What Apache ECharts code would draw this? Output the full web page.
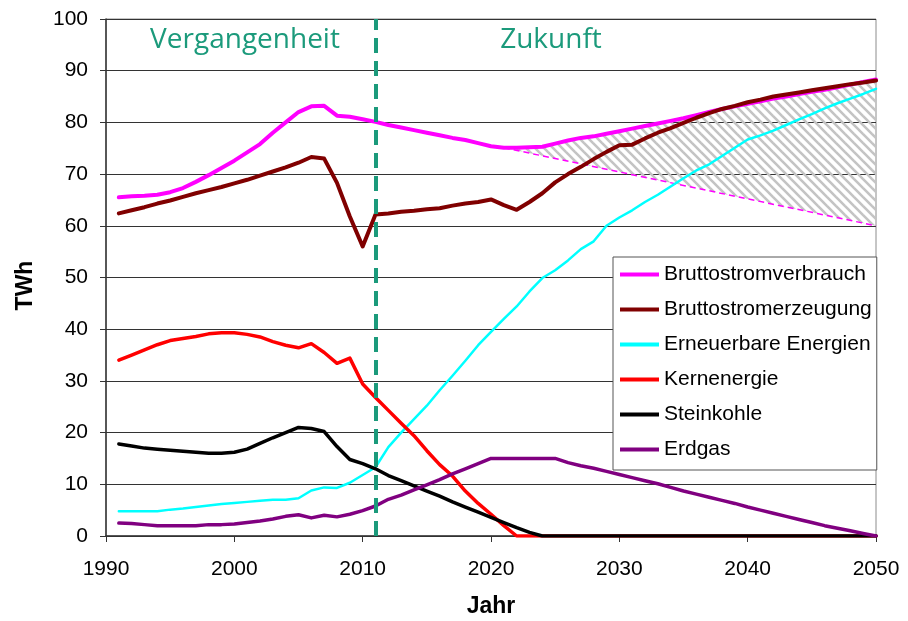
<!DOCTYPE html>
<html><head><meta charset="utf-8">
<script src="https://cdn.jsdelivr.net/npm/echarts@6/dist/echarts.min.js"></script>
<style>html,body{margin:0;padding:0;background:#fff}#c{width:908px;height:621px}</style>
</head><body><div id="c"></div>
<script>
const years = [1991,1992,1993,1994,1995,1996,1997,1998,1999,2000,
  2001,2002,2003,2004,2005,2006,2007,2008,2009,2010,
  2011,2012,2013,2014,2015,2016,2017,2018,2019,2020,
  2021,2022,2023,2024,2025,2026,2027,2028,2029,2030,
  2031,2032,2033,2034,2035,2036,2037,2038,2039,2040,
  2041,2042,2043,2044,2045,2046,2047,2048,2049,2050];
const verbrauch = [65.5,65.7,65.8,66.0,66.5,67.3,68.5,69.8,71.2,72.6,
  74.2,75.8,78.0,80.0,82.0,83.1,83.2,81.3,81.1,80.6,
  80.1,79.5,79.0,78.5,78.0,77.5,77.0,76.6,76.0,75.4,
  75.1,75.1,75.2,75.3,75.9,76.5,77.0,77.3,77.8,78.3,
  78.8,79.3,79.8,80.3,80.8,81.4,82.0,82.6,83.1,83.6,
  84.1,84.6,85.0,85.5,85.9,86.3,86.8,87.3,87.8,88.3];
const erzeugung = [62.4,63.0,63.6,64.3,64.9,65.6,66.3,66.9,67.5,68.2,
  68.9,69.7,70.5,71.3,72.2,73.3,73.0,68.3,61.8,56.0,
  62.2,62.4,62.7,62.9,63.2,63.4,63.9,64.3,64.6,65.1,
  64.0,63.1,64.6,66.3,68.4,70.0,71.4,72.9,74.3,75.6,
  75.7,76.9,78.0,78.9,79.9,80.9,81.8,82.6,83.2,83.9,
  84.4,85.0,85.4,85.8,86.2,86.6,87.0,87.4,87.7,88.1];
const erneuerbar = [4.8,4.8,4.8,4.8,5.1,5.3,5.6,5.9,6.2,6.4,
  6.6,6.8,7.0,7.0,7.3,8.8,9.4,9.3,10.3,11.8,
  13.3,17.2,20.0,22.6,25.2,28.2,31.0,33.9,36.9,39.5,
  42.0,44.4,47.3,49.9,51.4,53.3,55.5,57.0,60.0,61.6,
  63.0,64.6,66.0,67.6,69.2,70.7,71.9,73.5,75.1,76.7,
  77.5,78.4,79.5,80.6,81.6,82.7,83.7,84.6,85.5,86.5];
const kern = [34.0,35.0,36.0,37.0,37.8,38.2,38.6,39.1,39.3,39.3,
  39.0,38.5,37.6,36.9,36.4,37.2,35.5,33.4,34.4,29.4,
  26.8,24.3,21.8,19.4,16.5,13.8,11.6,8.7,6.3,4.2,
  2.0,0,0,0,0,0,0,0,0,0,
  0,0,0,0,0,0,0,0,0,0,
  0,0,0,0,0,0,0,0,0,0];
const kohle = [17.8,17.4,17.0,16.8,16.6,16.4,16.2,16.0,16.0,16.2,
  16.8,17.9,19.0,20.0,21.0,20.8,20.2,17.3,14.8,14.0,
  13.0,11.7,10.7,9.7,8.7,7.7,6.6,5.6,4.6,3.6,
  2.6,1.6,0.7,0,0,0,0,0,0,0,
  0,0,0,0,0,0,0,0,0,0,
  0,0,0,0,0,0,0,0,0,0];
const erdgas = [2.5,2.4,2.2,2.0,2.0,2.0,2.0,2.2,2.2,2.3,
  2.6,2.9,3.3,3.8,4.1,3.5,4.0,3.7,4.2,4.9,
  5.8,7.1,7.9,8.9,9.9,10.9,12.0,13.0,14.0,15.0,
  15.0,15.0,15.0,15.0,15.0,14.2,13.6,13.1,12.5,11.9,
  11.3,10.7,10.1,9.4,8.7,8.1,7.5,6.9,6.3,5.6,
  5.0,4.4,3.8,3.2,2.6,2.0,1.5,1.0,0.5,0];
const reductionYears = [2021, 2050];
const reductionValues = [75.1, 60.0];
const dividerYear = 2011;
const seriesNames = ['Bruttostromverbrauch','Bruttostromerzeugung','Erneuerbare Energien','Kernenergie','Steinkohle','Erdgas'];
const xTicks = [1990, 2050, 10];
const yTicks = [0, 100, 10];

const teal = '#1b9a7b';
const hatch = document.createElement('canvas');
hatch.width = 9; hatch.height = 9;
(function(){
  const g = hatch.getContext('2d');
  g.strokeStyle = '#c4c4c4'; g.lineWidth = 2.6;
  for (let k = -1; k <= 1; k++) { g.beginPath(); g.moveTo(-2, -2 + k*9); g.lineTo(11, 11 + k*9); g.stroke(); }
})();

const pair = a => years.map((y, i) => [y, a[i]]);
const font = '"Liberation Sans", Arial, sans-serif';
const chart = echarts.init(document.getElementById('c'));
const lineSeries = (name, arr, color, width) => ({
  name, type: 'line', data: pair(arr), showSymbol: false, symbol: 'none',
  lineStyle: {color, width, join: 'round', cap: 'round'}, itemStyle: {color}, z: 3
});
chart.setOption({
  animation: false,
  grid: {left: 106, right: 32, top: 19, bottom: 85, show: true, borderColor: '#8c8c8c', borderWidth: 1,
    containLabel: false, outerBoundsMode: 'none'},
  xAxis: {type: 'value', min: xTicks[0], max: xTicks[1], interval: xTicks[2],
    name: 'Jahr', nameLocation: 'middle', nameGap: 59,
    nameTextStyle: {fontFamily: font, fontSize: 23, fontWeight: 'bold', color: '#000'},
    axisLine: {lineStyle: {color: '#333', width: 1.5}},
    axisTick: {show: true, length: 6, lineStyle: {color: '#333'}},
    axisLabel: {margin: 23, fontFamily: font, fontSize: 21, color: '#000', formatter: v => String(v)},
    splitLine: {show: false}},
  yAxis: {type: 'value', min: yTicks[0], max: yTicks[1], interval: yTicks[2],
    name: 'TWh', nameLocation: 'middle', nameGap: 69,
    nameTextStyle: {fontFamily: font, fontSize: 23, fontWeight: 'bold', color: '#000', padding: [0, 16, 0, 0]},
    axisLine: {show: true, lineStyle: {color: '#333', width: 1.5}},
    axisTick: {show: true, length: 6, lineStyle: {color: '#333'}},
    axisLabel: {margin: 18, fontFamily: font, fontSize: 21, color: '#000'},
    splitLine: {show: true, lineStyle: {color: '#333', width: 1}}},
  legend: {orient: 'vertical', left: 613, top: 257, data: seriesNames, icon: 'rect',
    itemWidth: 39, itemHeight: 4, itemGap: 14, padding: [7, 5, 10, 7],
    backgroundColor: '#fff', borderColor: '#555', borderWidth: 1,
    textStyle: {fontFamily: font, fontSize: 21, color: '#000'}},
  graphic: [
    {type: 'text', x: 245, y: 40, z: 10, style: {text: 'Vergangenheit', fill: teal, font: '28px "Open Sans"', align: 'center', verticalAlign: 'middle', textAlign: 'center', textVerticalAlign: 'middle'}},
    {type: 'text', x: 551, y: 40, z: 10, style: {text: 'Zukunft', fill: teal, font: '28px "Open Sans"', align: 'center', verticalAlign: 'middle', textAlign: 'center', textVerticalAlign: 'middle'}}
  ],
  series: [
    {type: 'custom', name: 'hatch', data: [[reductionYears[0], reductionValues[0]]], z: 1, silent: true,
      renderItem: function(params, api) {
        const pts = [];
        for (let i = 0; i < years.length; i++) if (years[i] >= reductionYears[0]) pts.push(api.coord([years[i], verbrauch[i]]));
        pts.push(api.coord([reductionYears[1], reductionValues[1]]));
        pts.push(api.coord([reductionYears[0], reductionValues[0]]));
        return {type: 'polygon', shape: {points: pts}, style: {fill: {image: hatch, repeat: 'repeat'}, stroke: null}};
      }},
    {type: 'line', name: 'reduction', data: reductionYears.map((y, i) => [y, reductionValues[i]]), showSymbol: false, symbol: 'none',
      lineStyle: {color: '#ff00ff', width: 1.5, type: [6, 4]}, z: 2},
    lineSeries(seriesNames[0], verbrauch, '#ff00ff', 4),
    lineSeries(seriesNames[1], erzeugung, '#800000', 4),
    lineSeries(seriesNames[2], erneuerbar, '#00ffff', 2.5),
    lineSeries(seriesNames[3], kern, '#ff0000', 3.5),
    lineSeries(seriesNames[4], kohle, '#000000', 3.5),
    lineSeries(seriesNames[5], erdgas, '#800080', 3.5),
    {type: 'line', name: 'divider', data: [], z: 5, silent: true,
      markLine: {silent: true, symbol: ['none', 'none'], label: {show: false},
        lineStyle: {color: teal, width: 4, type: [15, 8]}, data: [{xAxis: dividerYear}]}}
  ]
});
</script></body></html>
